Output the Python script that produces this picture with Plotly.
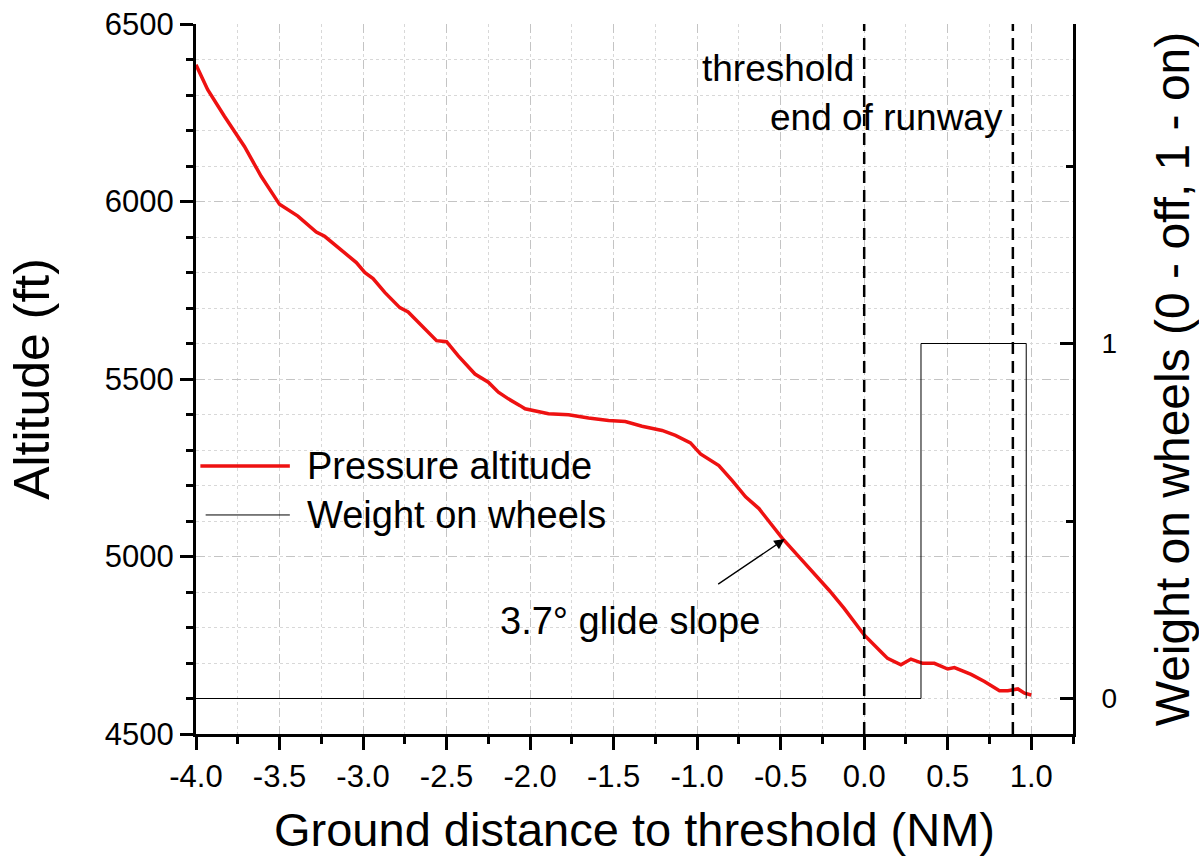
import plotly.graph_objects as go

# ---- data ----
dist_nm = [-4.00, -3.93, -3.83, -3.71, -3.61, -3.50, -3.39, -3.28, -3.23, -3.17,
           -3.04, -2.99, -2.94, -2.87, -2.78, -2.73, -2.63, -2.56, -2.50, -2.43,
           -2.33, -2.25, -2.19, -2.13, -2.06, -2.03, -1.89, -1.77, -1.65, -1.53,
           -1.43, -1.33, -1.21, -1.13, -1.04, -0.98, -0.87, -0.79, -0.71, -0.63,
           -0.56, -0.49, -0.39, -0.30, -0.21, -0.12, 0.00, 0.10, 0.14, 0.22,
           0.28, 0.35, 0.42, 0.50, 0.54, 0.64, 0.72, 0.81, 0.86, 0.92, 0.96, 1.00]
altitude_ft = [6385, 6315, 6240, 6155, 6071, 5992, 5959, 5914, 5902, 5879,
               5828, 5800, 5783, 5744, 5701, 5689, 5640, 5608, 5605, 5565,
               5514, 5491, 5463, 5444, 5425, 5416, 5402, 5399, 5390, 5383,
               5380, 5367, 5355, 5341, 5320, 5289, 5256, 5214, 5168, 5135,
               5093, 5051, 4999, 4952, 4905, 4854, 4779, 4732, 4713, 4695,
               4711, 4699, 4699, 4683, 4687, 4668, 4648, 4622, 4622, 4627, 4615, 4610]

wow_dist = [-4.00, 0.34, 0.97]
wow_state = [0, 1, 0]

ref_lines_x = [0.0, 0.89]
ref_labels = ["threshold", "end of runway"]

glide_point = (-0.476, 5049)
glide_label = "3.7\u00b0 glide slope"

x_ticks = [-4.0, -3.5, -3.0, -2.5, -2.0, -1.5, -1.0, -0.5, 0.0, 0.5, 1.0]
x_tick_text = ["-4.0", "-3.5", "-3.0", "-2.5", "-2.0", "-1.5", "-1.0", "-0.5", "0.0", "0.5", "1.0"]
y_ticks = [4500, 5000, 5500, 6000, 6500]
y2_ticks = [0, 1]

FONT = "Liberation Sans, Arial, sans-serif"
TICK = 31
ANNO = 37
LEG = 38
TITLE = 47
YTITLE = 50
Y2TITLE = 48

fig = go.Figure()
fig.add_trace(go.Scatter(x=dist_nm, y=altitude_ft, mode="lines",
                         line=dict(color="#ee1111", width=3.5),
                         name="Pressure altitude", showlegend=False))
fig.add_trace(go.Scatter(x=wow_dist, y=wow_state, mode="lines", yaxis="y2",
                         line=dict(color="black", width=1, shape="hv"),
                         name="Weight on wheels", showlegend=False))

# reference vertical lines
for xv in ref_lines_x:
    fig.add_shape(type="line", xref="x", yref="paper", x0=xv, x1=xv, y0=0, y1=1,
                  line=dict(color="black", width=2.5, dash="12px,7px"))

# labels for reference lines
fig.add_annotation(x=ref_lines_x[0], y=0.938, xref="x", yref="paper", text=ref_labels[0],
                   showarrow=False, xanchor="right", yanchor="middle", xshift=-8,
                   font=dict(size=ANNO, color="black", family=FONT))
fig.add_annotation(x=ref_lines_x[1], y=0.868, xref="x", yref="paper", text=ref_labels[1],
                   showarrow=False, xanchor="right", yanchor="middle", xshift=-8,
                   font=dict(size=ANNO, color="black", family=FONT))

# glide slope arrow + text
fig.add_annotation(x=glide_point[0], y=glide_point[1], xref="x", yref="y", text="",
                   showarrow=True, arrowhead=2, arrowsize=1.6, arrowwidth=1.3,
                   arrowcolor="black", ax=-68, ay=46, standoff=0)
fig.add_annotation(x=glide_point[0], y=glide_point[1], xref="x", yref="y", text=glide_label,
                   showarrow=False, xanchor="center", yanchor="middle", xshift=-155, yshift=-82,
                   font=dict(size=LEG, color="black", family=FONT))

# manual legend
fig.add_shape(type="line", xref="paper", yref="paper", x0=0.005, x1=0.107, y0=0.3775, y1=0.3775,
              line=dict(color="#ee1111", width=3.5))
fig.add_shape(type="line", xref="paper", yref="paper", x0=0.011, x1=0.107, y0=0.3085, y1=0.3085,
              line=dict(color="black", width=1))
fig.add_annotation(x=0.124, y=0.3775, xref="paper", yref="paper", text="Pressure altitude",
                   showarrow=False, xanchor="left", yanchor="middle",
                   font=dict(size=LEG, color="black", family=FONT))
fig.add_annotation(x=0.124, y=0.3085, xref="paper", yref="paper", text="Weight on wheels",
                   showarrow=False, xanchor="left", yanchor="middle",
                   font=dict(size=LEG, color="black", family=FONT))

grid_major = "#c4c4c4"
grid_minor = "#d8d8d8"

fig.update_layout(
    width=1199, height=857,
    margin=dict(l=196, r=126, t=24, b=123, autoexpand=False),
    plot_bgcolor="white", paper_bgcolor="white",
    font=dict(family=FONT, color="black"),
    xaxis=dict(
        range=[-4.0, 1.25], tickvals=x_ticks, ticktext=x_tick_text,
        showline=True, linecolor="black", linewidth=3,
        ticks="outside", ticklen=13, tickwidth=2.5, tickcolor="black",
        tickfont=dict(size=TICK, family=FONT),
        showgrid=True, gridcolor=grid_major, griddash="dash", gridwidth=1,
        zeroline=False,
        minor=dict(dtick=0.25, tick0=0, ticks="outside", ticklen=7, tickwidth=2.5,
                   tickcolor="black", showgrid=True, gridcolor=grid_minor,
                   griddash="dot", gridwidth=1),
        title=dict(text="Ground distance to threshold (NM)", font=dict(size=TITLE, family=FONT),
                   standoff=20),
    ),
    yaxis=dict(
        range=[4500, 6500], tickvals=y_ticks,
        showline=True, linecolor="black", linewidth=3,
        ticks="outside", ticklen=13, tickwidth=2.5, tickcolor="black",
        tickfont=dict(size=TICK, family=FONT),
        showgrid=True, gridcolor=grid_major, griddash="dash", gridwidth=1,
        zeroline=False,
        minor=dict(dtick=100, tick0=0, ticks="outside", ticklen=7, tickwidth=2.5,
                   tickcolor="black", showgrid=True, gridcolor=grid_minor,
                   griddash="dot", gridwidth=1),
        title=dict(text="Altitude (ft)", font=dict(size=YTITLE, family=FONT), standoff=40),
    ),
    yaxis2=dict(
        overlaying="y", side="right", range=[-0.1, 1.9],
        tickvals=y2_ticks,
        showline=True, linecolor="black", linewidth=3,
        ticks="inside", ticklen=13, tickwidth=2.5, tickcolor="black",
        ticklabelstandoff=20,
        tickfont=dict(size=28, family=FONT),
        showgrid=False, zeroline=False,
        minor=dict(dtick=0.5, tick0=0, ticks="inside", ticklen=7, tickwidth=2.5,
                   tickcolor="black", showgrid=False),
        title=dict(text="Weight on wheels (0 - off, 1 - on)", font=dict(size=Y2TITLE, family=FONT),
                   standoff=50),
    ),
)

fig.write_html("out.html")
